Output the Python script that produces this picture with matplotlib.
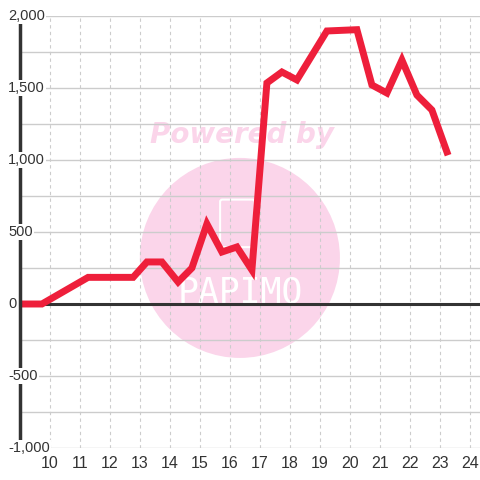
import matplotlib
matplotlib.use("Agg")
import matplotlib.pyplot as plt
from matplotlib.patches import Ellipse, FancyBboxPatch

# data
hours = [9.0, 9.73, 11.27, 12.77, 13.23, 13.73, 14.27, 14.73, 15.23, 15.73,
         16.23, 16.73, 17.23, 17.73, 18.23, 19.23, 20.23, 20.73, 21.23,
         21.73, 22.23, 22.73, 23.23]
values = [0, 0, 185, 185, 292, 292, 153, 250, 556, 361,
          396, 236, 1535, 1611, 1556, 1896, 1905, 1521, 1465,
          1694, 1451, 1347, 1056]

x_ticks = list(range(10, 25))
y_ticks = [2000, 1500, 1000, 500, 0, -500, -1000]
y_grid = list(range(-1000, 2001, 250))

plt.rcParams['font.family'] = ['Liberation Sans', 'DejaVu Sans']

fig = plt.figure(figsize=(4.8, 4.8), dpi=100)
ax = fig.add_axes([20 / 480, 32 / 480, 460 / 480, 432 / 480])
ax.set_xlim(9, 24.333)
ax.set_ylim(-1000, 2000)

# grid
for v in y_grid:
    ax.axhline(v, color='#cccccc', lw=1, zorder=1)
for t in x_ticks:
    ax.axvline(t, color='#cccccc', lw=0.8, ls=(0, (3, 3)), zorder=1)

# watermark
ax.add_patch(Ellipse((0.478, 0.44), 0.435, 0.463, transform=ax.transAxes,
                     color='#fbd5ea', zorder=0.5, lw=0))
ax.add_patch(FancyBboxPatch((0.44, 0.47), 0.065, 0.1, transform=ax.transAxes,
                            boxstyle='round,pad=0.005', fc='none', ec='white',
                            lw=1.5, zorder=0.6))
ax.text(0.478, 0.36, 'PAPIMO', transform=ax.transAxes, ha='center',
        va='center', fontsize=25, color='white', family='DejaVu Sans Mono',
        zorder=0.7)
ax.text(0.482, 0.725, 'Powered by', transform=ax.transAxes, ha='center',
        va='center', fontsize=20, color='#fbd5ea', fontweight='heavy',
        style='italic', family='DejaVu Sans', zorder=0.7)

ax.axhline(0, color='#333333', lw=2.2, zorder=3)
ax.plot(hours, values, color='#ee1f3b', lw=5, solid_joinstyle='miter',
        zorder=5, clip_on=True)

for s in ['top', 'right', 'bottom']:
    ax.spines[s].set_visible(False)
ax.spines['left'].set_color('#333333')
ax.spines['left'].set_linewidth(2.5)
ax.spines['left'].set_zorder(6)

ax.set_yticks([])
ax.set_xticks(x_ticks)
ax.set_xticklabels([str(t) for t in x_ticks])
ax.tick_params(axis='x', length=0, pad=6, labelsize=11.5, labelcolor='#333333')

ytr = ax.get_yaxis_transform()
for v in y_ticks:
    ax.text(-0.026, v, f'{v:,}', transform=ytr, ha='left', va='center',
            fontsize=10.5, color='#333333', zorder=10, clip_on=False,
            bbox=dict(fc='white', ec='none', pad=1))

fig.savefig('out.png', dpi=100)
